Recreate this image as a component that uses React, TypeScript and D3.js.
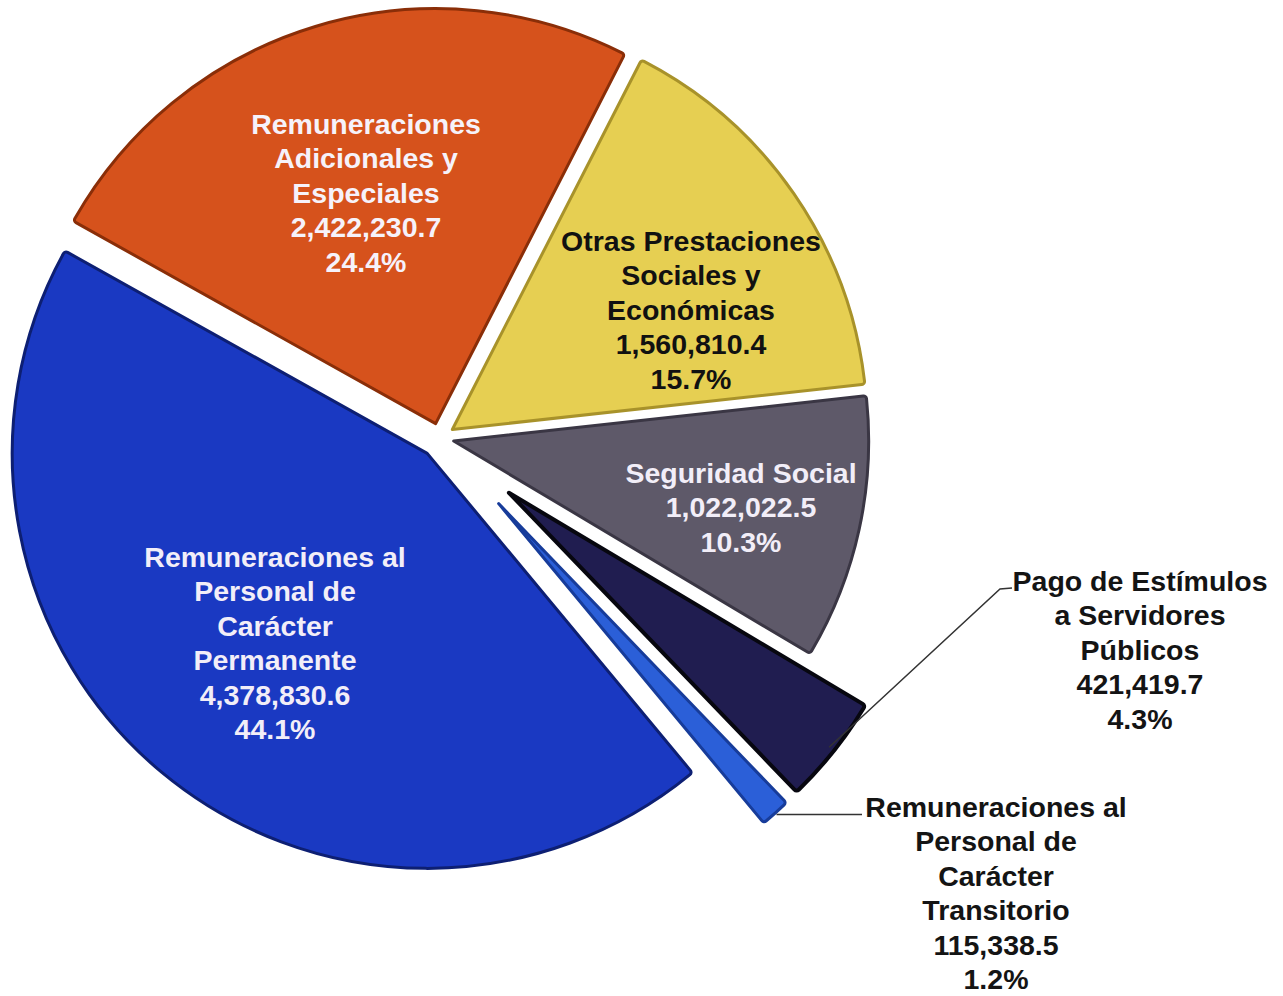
import React from "react";
import * as d3 from "d3";

const categories = [
  "Remuneraciones Adicionales y Especiales",
  "Otras Prestaciones Sociales y Económicas",
  "Seguridad Social",
  "Pago de Estímulos a Servidores Públicos",
  "Remuneraciones al Personal de Carácter Transitorio",
  "Remuneraciones al Personal de Carácter Permanente",
];
const values = [2422230.7, 1560810.4, 1022022.5, 421419.7, 115338.5, 4378830.6];
const percentLabels = ["24.4%", "15.7%", "10.3%", "4.3%", "1.2%", "44.1%"];
const labelLines = [
  ["Remuneraciones", "Adicionales y", "Especiales"],
  ["Otras Prestaciones", "Sociales y", "Económicas"],
  ["Seguridad Social"],
  ["Pago de Estímulos", "a Servidores", "Públicos"],
  ["Remuneraciones al", "Personal de", "Carácter", "Transitorio"],
  ["Remuneraciones al", "Personal de", "Carácter", "Permanente"],
];

// styling / layout
const W = 1283;
const H = 996;
const CX = 440;
const CY = 438;
const R = 415;
const START_DEG = 299.2;
const colors = ["#D6521C", "#E6CF52", "#5E5969", "#201D50", "#2B5FD8", "#1A39C2"];
const strokes = ["#8A2E08", "#A8922A", "#3A3644", "#07070F", "#173C9A", "#0D1F73"];
const textColors = ["#F6F2FA", "#111111", "#F2EEF8", "#141414", "#141414", "#F2EEF8"];
const explode = [15, 15, 14, 88, 88, 20];
const labelAnchor: [number, number][] = [
  [366, 134],
  [691, 251],
  [741, 483],
  [1140, 591],
  [996, 817],
  [275, 567],
];
const LINE_H = 34.4;
const fmt = d3.format(",.1f");

export default function App() {
  const pie = d3
    .pie<number>()
    .sort(null)
    .value((d) => d)
    .startAngle((START_DEG * Math.PI) / 180)
    .endAngle((START_DEG * Math.PI) / 180 + 2 * Math.PI);
  const arcs = pie(values);
  const arcGen = d3
    .arc<d3.PieArcDatum<number>>()
    .innerRadius(0)
    .outerRadius(R)
    .cornerRadius(3);

  const offsets = arcs.map((a, i) => {
    const mid = (a.startAngle + a.endAngle) / 2;
    return [CX + explode[i] * Math.sin(mid), CY - explode[i] * Math.cos(mid)];
  });

  const arcPoint = (i: number, r: number): [number, number] => {
    const a = arcs[i];
    const mid = (a.startAngle + a.endAngle) / 2;
    const [ox, oy] = offsets[i];
    return [ox + r * Math.sin(mid), oy - r * Math.cos(mid)];
  };

  const navyStart = arcPoint(3, R - 6);
  const lbStart = arcPoint(4, R + 2);

  return (
    <svg
      width={W}
      height={H}
      viewBox={`0 0 ${W} ${H}`}
      style={{ position: "absolute", left: 0, top: 0, display: "block", background: "#fff" }}
    >
      <rect width={W} height={H} fill="#ffffff" />
      {arcs.map((a, i) => (
        <g key={categories[i]} transform={`translate(${offsets[i][0]},${offsets[i][1]})`}>
          <path
            d={arcGen(a) || ""}
            fill={colors[i]}
            stroke={strokes[i]}
            strokeWidth={i === 3 ? 4 : 3}
            strokeLinejoin="round"
          />
        </g>
      ))}
      <path
        d={d3.line()([navyStart, [1000, 589], [1012, 588]]) || ""}
        fill="none"
        stroke="#333"
        strokeWidth={1.5}
      />
      <path
        d={d3.line()([lbStart, [862, lbStart[1]]]) || ""}
        fill="none"
        stroke="#333"
        strokeWidth={1.5}
      />
      {arcs.map((a, i) => {
        const lines = [...labelLines[i], fmt(values[i]), percentLabels[i]];
        const [lx, ly] = labelAnchor[i];
        return (
          <text
            key={"t" + i}
            transform={`translate(${lx},${ly})`}
            textAnchor="middle"
            fontFamily="'Liberation Sans', Arial, Helvetica, sans-serif"
            fontWeight="bold"
            fontSize={28.5}
            fill={textColors[i]}
          >
            {lines.map((t, j) => (
              <tspan key={j} x={0} y={j * LINE_H}>
                {t}
              </tspan>
            ))}
          </text>
        );
      })}
    </svg>
  );
}
